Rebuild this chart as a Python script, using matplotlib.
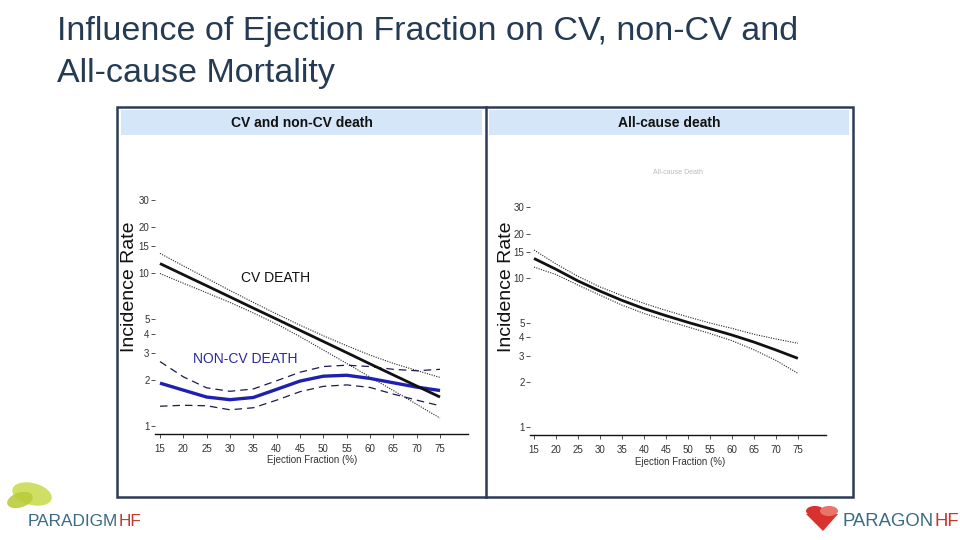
import matplotlib
matplotlib.use("Agg")
import matplotlib.pyplot as plt
from matplotlib.patches import Rectangle, Ellipse, Polygon, Circle

# ---------------- data ----------------
ef = [15, 20, 25, 30, 35, 40, 45, 50, 55, 60, 65, 70, 75]

cv_rate = [11.5, 9.73, 8.24, 6.97, 5.89, 4.99, 4.22, 3.57, 3.02, 2.55, 2.16, 1.83, 1.55]
cv_upper = [13.4, 11.1, 9.23, 7.67, 6.42, 5.39, 4.56, 3.89, 3.35, 2.91, 2.57, 2.31, 2.08]
cv_lower = [9.9, 8.56, 7.42, 6.41, 5.48, 4.64, 3.84, 3.14, 2.57, 2.09, 1.71, 1.39, 1.13]

noncv_rate = [1.91, 1.72, 1.55, 1.49, 1.54, 1.74, 1.97, 2.12, 2.15, 2.05, 1.92, 1.80, 1.71]
noncv_upper = [2.64, 2.10, 1.78, 1.69, 1.75, 1.98, 2.25, 2.45, 2.50, 2.45, 2.35, 2.30, 2.35]
noncv_lower = [1.35, 1.37, 1.36, 1.28, 1.32, 1.48, 1.68, 1.82, 1.86, 1.79, 1.62, 1.48, 1.36]

all_rate = [13.6, 11.5, 9.6, 8.2, 7.1, 6.25, 5.6, 5.05, 4.58, 4.15, 3.72, 3.29, 2.89]
all_upper = [15.5, 12.5, 10.3, 8.75, 7.65, 6.78, 6.08, 5.5, 5.0, 4.6, 4.2, 3.9, 3.65]
all_lower = [11.9, 10.6, 9.0, 7.7, 6.6, 5.8, 5.2, 4.7, 4.25, 3.8, 3.3, 2.8, 2.29]

yticks = [1, 2, 3, 4, 5, 10, 15, 20, 30]
ytick_labels = ["1", "2", "3", "4", "5", "10", "15", "20", "30"]
xticks = [15, 20, 25, 30, 35, 40, 45, 50, 55, 60, 65, 70, 75]

title_lines = ["Influence of Ejection Fraction on CV, non-CV and", "All-cause Mortality"]
panel_titles = ["CV and non-CV death", "All-cause death"]
xlabel = "Ejection Fraction (%)"
ylabel = "Incidence Rate"

# ---------------- figure ----------------
W, H = 960, 540
fig = plt.figure(figsize=(9.6, 5.4), dpi=100)
fig.patch.set_facecolor("white")
SANS = ["Liberation Sans", "DejaVu Sans"]


def fx(px):
    return px / W


def fy(py):
    return 1 - py / H


# title (two lines, positioned by baseline)
for line, base in zip(title_lines, [40, 82]):
    fig.text(fx(57), fy(base), line, ha="left", va="baseline", fontsize=24.5,
             family=SANS, color="#243b53")

# outer frame and divider
frame_col = "#2b3a55"
fig.patches.append(Rectangle((fx(117), fy(497)), fx(853) - fx(117), fy(107) - fy(497),
                             transform=fig.transFigure, fill=False, ec=frame_col, lw=1.8))
fig.lines.append(plt.Line2D([fx(485.5), fx(485.5)], [fy(107), fy(497)],
                            transform=fig.transFigure, color=frame_col, lw=1.8))
# header strips
for (x0, x1), t in zip([(121, 482), (489, 849)], panel_titles):
    fig.patches.append(Rectangle((fx(x0), fy(135)), fx(x1) - fx(x0), fy(110) - fy(135),
                                 transform=fig.transFigure, fc="#d5e6f8", ec="none"))
    fig.text(fx((x0 + x1) / 2), fy(123), t, ha="center", va="center", fontsize=10,
             fontweight="bold", family=SANS, color="#111111")


def style_axes(ax, xlim, ylim):
    ax.set_yscale("log")
    ax.set_xlim(*xlim)
    ax.set_ylim(*ylim)
    ax.set_yticks(yticks)
    ax.set_yticklabels(ytick_labels)
    ax.minorticks_off()
    ax.set_xticks(xticks)
    ax.set_xticklabels([str(v) for v in xticks])
    for s in ["top", "right", "left"]:
        ax.spines[s].set_visible(False)
    ax.spines["bottom"].set_color("#111111")
    ax.spines["bottom"].set_linewidth(1.0)
    ax.tick_params(axis="y", length=3, width=0.6, pad=1, labelsize=7, colors="#333333")
    ax.tick_params(axis="x", length=3, width=0.6, pad=4, labelsize=7, colors="#333333")
    for lab in ax.get_xticklabels() + ax.get_yticklabels():
        lab.set_family(SANS)
    ax.patch.set_alpha(0)


# ---------------- left panel ----------------
axL = fig.add_axes([fx(155), fy(434), fx(468) - fx(155), fy(185) - fy(434)])
style_axes(axL, (13.93, 81.0), (0.89, 37.4))
axL.plot(ef, cv_upper, color="#222222", lw=0.8, ls=(0, (1, 1.2)))
axL.plot(ef, cv_lower, color="#222222", lw=0.8, ls=(0, (1, 1.2)))
axL.plot(ef, noncv_upper, color="#1a1a50", lw=0.9, ls=(0, (6, 4)))
axL.plot(ef, noncv_lower, color="#1a1a50", lw=0.9, ls=(0, (6, 4)))
axL.plot(ef, noncv_rate, color="#1f1fb0", lw=2.4, solid_capstyle="butt")
axL.plot(ef, cv_rate, color="#111111", lw=2.0, solid_capstyle="butt")
fig.text(fx(276), fy(278), "CV DEATH", ha="center", va="center", fontsize=10,
         family=SANS, color="#111111")
fig.text(fx(245), fy(359), "NON-CV DEATH", ha="center", va="center", fontsize=10,
         family=SANS, color="#2a2a9a")
fig.text(fx(312), fy(460), xlabel, ha="center", va="center", fontsize=7,
         family=SANS, color="#333333")
fig.text(fx(129), fy(287), ylabel, ha="center", va="center", rotation=90,
         fontsize=14, family=SANS, color="#111111")

# ---------------- right panel ----------------
axR = fig.add_axes([fx(530), fy(435), fx(826) - fx(530), fy(185) - fy(435)])
style_axes(axR, (14.09, 81.4), (0.88, 42.5))
axR.plot(ef, all_upper, color="#222222", lw=0.8, ls=(0, (1, 1.2)))
axR.plot(ef, all_lower, color="#222222", lw=0.8, ls=(0, (1, 1.2)))
axR.plot(ef, all_rate, color="#111111", lw=2.0, solid_capstyle="butt")
fig.text(fx(678), fy(172), "All-cause Death", ha="center", va="center", fontsize=5,
         family=SANS, color="#bbbbbb")
fig.text(fx(680), fy(462), xlabel, ha="center", va="center", fontsize=7,
         family=SANS, color="#333333")
fig.text(fx(507), fy(287), ylabel, ha="center", va="center", rotation=90,
         fontsize=14, family=SANS, color="#111111")

# ---------------- logos ----------------
fig.patches.append(Ellipse((fx(32), fy(494)), fx(34), 26 / H, angle=40,
                           transform=fig.transFigure, fc="#cbdc52", ec="none", alpha=0.9))
fig.patches.append(Ellipse((fx(20), fy(500)), fx(22), 18 / H, angle=-35,
                           transform=fig.transFigure, fc="#b9cd3c", ec="none", alpha=0.9))

# heart for right logo
fig.patches.append(Circle((fx(815), fy(511)), 9 / W, transform=fig.transFigure,
                          fc="#d8322f", ec="none"))
fig.patches.append(Polygon([(fx(806), fy(514)), (fx(838), fy(514)), (fx(823), fy(531))],
                           transform=fig.transFigure, fc="#d8322f", ec="none"))
fig.patches.append(Circle((fx(829), fy(511)), 9 / W, transform=fig.transFigure,
                          fc="#e8746a", ec="none"))

fig.canvas.draw()
renderer = fig.canvas.get_renderer()
for x0, word, fs in [(28, "PARADIGM", 12.4), (843, "PARAGON", 13.3)]:
    t = fig.text(fx(x0), fy(521), word, ha="left", va="center", fontsize=fs,
                 family=SANS, color="#3a6b86")
    bb = t.get_window_extent(renderer)
    fig.text(bb.x1 / W, fy(521), "HF", ha="left", va="center", fontsize=fs,
             family=SANS, color="#c0392b")

fig.savefig("out.png", dpi=100)
